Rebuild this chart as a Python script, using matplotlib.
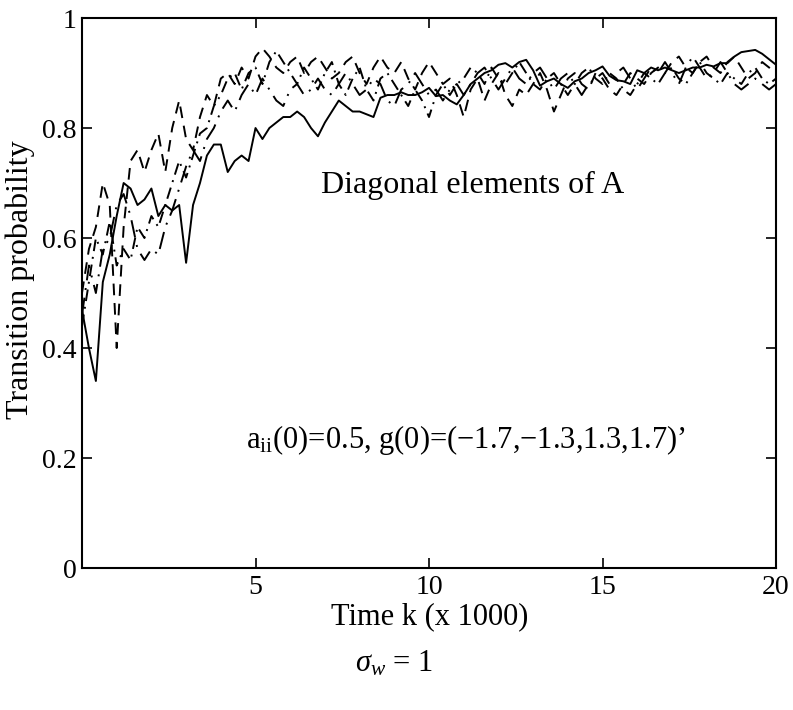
import numpy as np
import matplotlib.pyplot as plt

# time axis in units of 1000 steps, sampled every 200 steps
time_k = np.round(np.arange(0, 20.01, 0.2), 1)

# diagonal elements a_11 .. a_44 of the estimated transition matrix
a11 = [0.47, 0.40, 0.34, 0.52, 0.57, 0.64, 0.70, 0.69, 0.66, 0.67,
       0.69, 0.64, 0.66, 0.65, 0.66, 0.555, 0.66, 0.70, 0.75, 0.77,
       0.77, 0.72, 0.74, 0.75, 0.74, 0.80, 0.78, 0.80, 0.81, 0.82,
       0.82, 0.83, 0.82, 0.80, 0.785, 0.81, 0.83, 0.85, 0.84, 0.83,
       0.83, 0.825, 0.82, 0.855, 0.86, 0.86, 0.865, 0.86, 0.86, 0.865,
       0.873, 0.858, 0.86, 0.85, 0.843, 0.86, 0.88, 0.89, 0.90, 0.905,
       0.915, 0.918, 0.91, 0.92, 0.924, 0.905, 0.877, 0.885, 0.89, 0.88,
       0.873, 0.885, 0.89, 0.90, 0.905, 0.912, 0.895, 0.887, 0.885, 0.88,
       0.905, 0.90, 0.91, 0.905, 0.91, 0.905, 0.90, 0.905, 0.91, 0.91,
       0.915, 0.912, 0.918, 0.918, 0.93, 0.938, 0.94, 0.942, 0.935, 0.925,
       0.915]
a22 = [0.50, 0.58, 0.62, 0.70, 0.66, 0.40, 0.62, 0.74, 0.76, 0.72,
       0.76, 0.79, 0.72, 0.80, 0.85, 0.78, 0.76, 0.82, 0.86, 0.84,
       0.89, 0.90, 0.88, 0.91, 0.89, 0.93, 0.945, 0.93, 0.91, 0.90,
       0.92, 0.93, 0.90, 0.92, 0.93, 0.91, 0.89, 0.90, 0.92, 0.93,
       0.90, 0.88, 0.91, 0.93, 0.91, 0.90, 0.92, 0.89, 0.87, 0.90,
       0.92, 0.90, 0.88, 0.89, 0.86, 0.82, 0.87, 0.89, 0.85, 0.88,
       0.90, 0.86, 0.84, 0.87, 0.86, 0.88, 0.90, 0.87, 0.83, 0.86,
       0.89, 0.90, 0.88, 0.87, 0.90, 0.89, 0.87, 0.86, 0.88, 0.90,
       0.89, 0.88, 0.90, 0.91, 0.90, 0.92, 0.93, 0.91, 0.90, 0.92,
       0.93, 0.91, 0.90, 0.92, 0.93, 0.91, 0.89, 0.90, 0.92, 0.91,
       0.90]
a33 = [0.44, 0.52, 0.60, 0.57, 0.63, 0.55, 0.58, 0.56, 0.62, 0.60,
       0.64, 0.62, 0.66, 0.70, 0.74, 0.71, 0.75, 0.79, 0.80, 0.84,
       0.86, 0.89, 0.90, 0.87, 0.90, 0.91, 0.88, 0.92, 0.94, 0.92,
       0.90, 0.88, 0.91, 0.89, 0.87, 0.90, 0.92, 0.88, 0.86, 0.89,
       0.91, 0.87, 0.85, 0.89, 0.90, 0.88, 0.86, 0.84, 0.87, 0.85,
       0.82, 0.86, 0.88, 0.86, 0.88, 0.89, 0.91, 0.90, 0.88, 0.91,
       0.89, 0.88, 0.90, 0.92, 0.90, 0.88, 0.87, 0.89, 0.90, 0.88,
       0.86, 0.88, 0.90, 0.91, 0.89, 0.88, 0.90, 0.89, 0.87, 0.86,
       0.88, 0.90, 0.89, 0.88, 0.90, 0.91, 0.89, 0.88, 0.90, 0.92,
       0.90, 0.89, 0.88, 0.90, 0.89, 0.88, 0.90, 0.91, 0.89, 0.88,
       0.89]
a44 = [0.46, 0.55, 0.50, 0.58, 0.60, 0.66, 0.68, 0.64, 0.58, 0.56,
       0.58, 0.57, 0.62, 0.65, 0.69, 0.73, 0.76, 0.74, 0.78, 0.80,
       0.83, 0.85, 0.83, 0.86, 0.88, 0.86, 0.89, 0.87, 0.85, 0.84,
       0.87, 0.88, 0.86, 0.87, 0.89, 0.87, 0.86, 0.88, 0.90, 0.88,
       0.86, 0.87, 0.89, 0.88, 0.85, 0.84, 0.87, 0.88, 0.90, 0.88,
       0.86, 0.87, 0.85, 0.87, 0.88, 0.86, 0.88, 0.90, 0.91, 0.89,
       0.87, 0.89, 0.91, 0.89, 0.88, 0.90, 0.91, 0.89, 0.87, 0.89,
       0.90, 0.88, 0.86, 0.88, 0.89, 0.90, 0.88, 0.90, 0.91, 0.89,
       0.87, 0.89, 0.91, 0.90, 0.92, 0.90, 0.88, 0.91, 0.93, 0.91,
       0.89, 0.90, 0.92, 0.90, 0.88, 0.87, 0.88, 0.89, 0.88, 0.87,
       0.88]

plt.rcParams['font.family'] = 'Liberation Serif'
plt.rcParams['mathtext.fontset'] = 'custom'
plt.rcParams['mathtext.rm'] = 'Liberation Serif'
plt.rcParams['mathtext.it'] = 'Liberation Serif:italic'

fig = plt.figure(figsize=(7.93, 7.10), dpi=100)
ax = fig.add_axes([0.1034, 0.2, 0.8752, 0.7746])

ax.plot(time_k, a11, color='black', lw=1.4, linestyle='-')
ax.plot(time_k, a22, color='black', lw=1.4, linestyle=(0, (6, 4)))
ax.plot(time_k, a33, color='black', lw=1.4, linestyle=(0, (6, 3, 1, 3)))
ax.plot(time_k, a44, color='black', lw=1.4, linestyle=(0, (9, 4, 1, 4)))

ax.set_xlim(0, 20)
ax.set_ylim(0, 1)
ax.set_xticks([5, 10, 15, 20])
ax.set_yticks([0, 0.2, 0.4, 0.6, 0.8, 1])
ax.set_yticklabels(['0', '0.2', '0.4', '0.6', '0.8', '1'])
ax.tick_params(direction='in', top=True, right=True, length=7, width=1.2,
               labelsize=20)
ax.tick_params(axis='x', pad=5)
ax.tick_params(axis='y', pad=4)
for sp in ax.spines.values():
    sp.set_linewidth(1.5)

ax.set_xlabel('Time k (x 1000)', fontsize=22)
ax.xaxis.set_label_coords(0.501, -0.063)
ax.set_ylabel('Transition probability', fontsize=23)
ax.yaxis.set_label_coords(-0.068, 0.524)

ax.text(6.9, 0.696, 'Diagonal elements of A', fontsize=23, va='center')
ax.text(4.73, 0.233, r'a$_{\rm ii}$(0)=0.5, g(0)=(−1.7,−1.3,1.3,1.7)’',
        fontsize=22, va='center')

fig.text(0.497, 0.065, r'$\sigma_w$ = 1', fontsize=22, ha='center',
         va='center')

fig.savefig('out.png', dpi=100)
